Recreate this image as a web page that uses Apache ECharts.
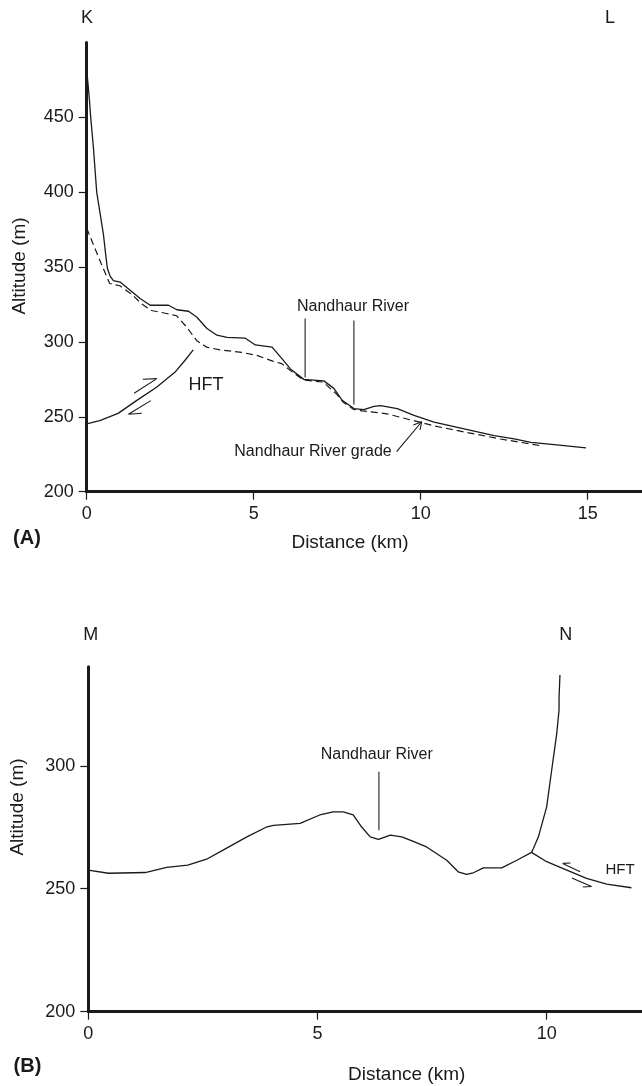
<!DOCTYPE html>
<html><head><meta charset="utf-8">
<script src="https://cdn.jsdelivr.net/npm/echarts@6/dist/echarts.min.js"></script>
<style>html,body{margin:0;padding:0;background:#fff}#c{width:642px;height:1086px}</style>
</head><body><div id="c"></div>
<script>
// ---------- tick values ----------
const xTicksA = [0, 5, 10, 15];
const yTicksA = [200, 250, 300, 350, 400, 450];
const xTicksB = [0, 5, 10];
const yTicksB = [200, 250, 300];

// ---------- Panel A (K–L) ----------
const profileA = [[0,482],[0.08,462],[0.12,450],[0.2,430],[0.3,400],[0.4,386],[0.5,372],[0.56,360],[0.62,349],[0.7,344],[0.8,341],[1.0,340],[1.3,334.5],[1.6,329],[1.9,324.5],[2.45,324.5],[2.7,321.5],[3.05,320.5],[3.3,316.5],[3.6,309],[3.9,304.5],[4.2,303],[4.75,302.5],[5.05,298],[5.55,296.5],[5.8,290],[6.1,282],[6.5,275],[7.1,274],[7.4,269],[7.65,261],[8.0,255.5],[8.3,254.8],[8.6,257],[8.8,257.5],[9.3,255.5],[9.8,251],[10.4,246.5],[11.1,243],[12.2,237.5],[12.8,235.3],[13.3,233],[14.0,231.5],[14.95,229.3]];
const gradeA = [[0,376],[0.19,365.5],[0.44,352],[0.69,339],[0.99,337.5],[1.34,332],[1.64,325.5],[1.94,321],[2.39,319],[2.69,317.5],[2.99,310],[3.29,301],[3.59,296.5],[3.99,294.7],[4.64,293],[5.09,291],[5.59,287],[5.84,285.5],[6.09,281],[6.49,274.5],[7.09,273.2],[7.19,271],[7.49,265],[7.69,259.5],[7.99,255],[8.24,254],[8.99,252],[9.69,248],[10.39,244],[11.39,239.5],[12.39,235.2],[13.59,230.7]];
const hftA = [[0,245.3],[0.39,247.5],[0.94,252.3],[1.49,260.8],[2.09,269.7],[2.64,279.7],[2.94,287.6],[3.19,294.7]];
const hftArrowUpA = [[1.42,265.7],[2.10,275.5],[1.68,275.1]];
const hftArrowDownA = [[1.92,260.8],[1.25,251.7],[1.65,252.4]];
const riverMarkA1 = [[6.54,276.2],[6.54,315.6]];
const riverMarkA2 = [[8.0,258.2],[8.0,314.3]];
const gradeArrowA = [[9.28,226.7],[10.03,246.7]];
const gradeArrowHeadA = [[9.78,244.5],[10.03,246.7],[9.98,241.2]];

// ---------- Panel B (M–N) ----------
const profileB = [[0,257.6],[0.44,256.3],[1.24,256.6],[1.71,258.7],[2.17,259.6],[2.58,262],[2.94,265.7],[3.46,271.1],[3.9,275.2],[4.04,275.8],[4.62,276.6],[5.05,280],[5.34,281.3],[5.56,281.3],[5.78,280],[5.96,275.2],[6.15,271.1],[6.33,270.1],[6.59,271.8],[6.84,271.1],[7.09,269.3],[7.38,267],[7.82,261.6],[8.07,256.9],[8.25,255.8],[8.4,256.5],[8.62,258.5],[9.02,258.5],[9.35,261.6],[9.67,264.8]];
const scarpB = [[9.67,264.8],[9.71,266.4],[9.82,271.1],[10.0,283.3],[10.11,298.3],[10.22,313.2],[10.27,322.7],[10.27,327.4],[10.29,336.9]];
const hftB = [[9.67,264.8],[10.0,261],[10.44,257.6],[10.87,254.2],[11.31,251.9],[11.85,250.4]];
const hftArrowUpB = [[10.73,256.9],[10.35,260.3],[10.52,260.5]];
const hftArrowDownB = [[10.55,254.4],[10.98,250.9],[10.79,250.7]];
const riverMarkB = [[6.34,273.8],[6.34,297.6]];

const F = "'Liberation Sans', Arial, Helvetica, sans-serif";
const INK = '#1a1a1a';

function xAxis(gi, max, ticks) {
  return {
    type: 'value', gridIndex: gi, min: 0, max: max, interval: 5,
    axisLine: { show: true, onZero: false, lineStyle: { color: INK, width: 3 } },
    axisTick: { show: true, customValues: ticks, length: 8, lineStyle: { color: INK, width: 1.2 } },
    axisLabel: { show: true, customValues: ticks, margin: 13, fontSize: 18, color: INK, fontFamily: F },
    splitLine: { show: false }
  };
}
function yAxis(gi, max, ticks) {
  return {
    type: 'value', gridIndex: gi, min: 200, max: max, interval: 50,
    axisLine: { show: true, onZero: false, lineStyle: { color: INK, width: 3 } },
    axisTick: { show: true, customValues: ticks, length: 8, lineStyle: { color: INK, width: 1.2 } },
    axisLabel: { show: true, customValues: ticks, margin: 13, fontSize: 18, color: INK, fontFamily: F },
    splitLine: { show: false }
  };
}
function line(idx, data, opts) {
  opts = opts || {};
  return {
    type: 'line', xAxisIndex: idx, yAxisIndex: idx, data: data,
    showSymbol: false, symbol: 'none', silent: true, animation: false,
    lineStyle: { color: opts.color || INK, width: opts.width || 1.3, type: opts.type || 'solid' },
    z: 3
  };
}
function txt(x, y, s, size, extra) {
  return Object.assign({
    type: 'text', x: x, y: y,
    style: { text: s, fill: INK, font: (extra && extra.bold ? 'bold ' : '') + size + 'px ' + F,
             textAlign: 'center', textVerticalAlign: 'middle' }
  }, extra && extra.rot ? { rotation: Math.PI / 2 } : {});
}

const chart = echarts.init(document.getElementById('c'), null, { renderer: 'canvas' });
chart.setOption({
  backgroundColor: '#fff',
  animation: false,
  grid: [
    { left: 86.7, right: 0, top: 42.4, bottom: 1086 - 491.7, containLabel: false, outerBoundsMode: 'none' },
    { left: 88.3, right: 0, top: 666.7, bottom: 1086 - 1011.7, containLabel: false, outerBoundsMode: 'none' }
  ],
  xAxis: [xAxis(0, 16.626, xTicksA), xAxis(1, 12.08, xTicksB)],
  yAxis: [yAxis(0, 500, yTicksA), yAxis(1, 340.3, yTicksB)],
  series: [
    line(0, profileA),
    line(0, gradeA, { type: [7, 4], width: 1.2 }),
    line(0, hftA),
    line(0, hftArrowUpA, { width: 1.1 }),
    line(0, hftArrowDownA, { width: 1.1 }),
    line(0, riverMarkA1, { color: '#333', width: 1.2 }),
    line(0, riverMarkA2, { color: '#333', width: 1.2 }),
    line(0, gradeArrowA, { width: 1.1 }),
    line(0, gradeArrowHeadA, { width: 1.1 }),
    line(1, profileB),
    line(1, scarpB),
    line(1, hftB),
    line(1, hftArrowUpB, { width: 1.1 }),
    line(1, hftArrowDownB, { width: 1.1 }),
    line(1, riverMarkB, { color: '#333', width: 1.2 })
  ],
  graphic: [
    txt(87, 18, 'K', 18),
    txt(610, 18, 'L', 18),
    txt(353, 307, 'Nandhaur River', 16),
    txt(206, 385, 'HFT', 18),
    txt(313, 452, 'Nandhaur River grade', 16),
    txt(350, 543, 'Distance (km)', 19),
    txt(27, 538, '(A)', 20, { bold: true }),
    txt(20, 266, 'Altitude (m)', 19, { rot: true }),
    txt(90.7, 635, 'M', 18),
    txt(565.7, 635, 'N', 18),
    txt(376.7, 755, 'Nandhaur River', 16),
    txt(620, 870, 'HFT', 15),
    txt(406.7, 1075, 'Distance (km)', 19),
    txt(27.5, 1066.7, '(B)', 20, { bold: true }),
    txt(17.5, 807, 'Altitude (m)', 19, { rot: true })
  ]
});
</script></body></html>
